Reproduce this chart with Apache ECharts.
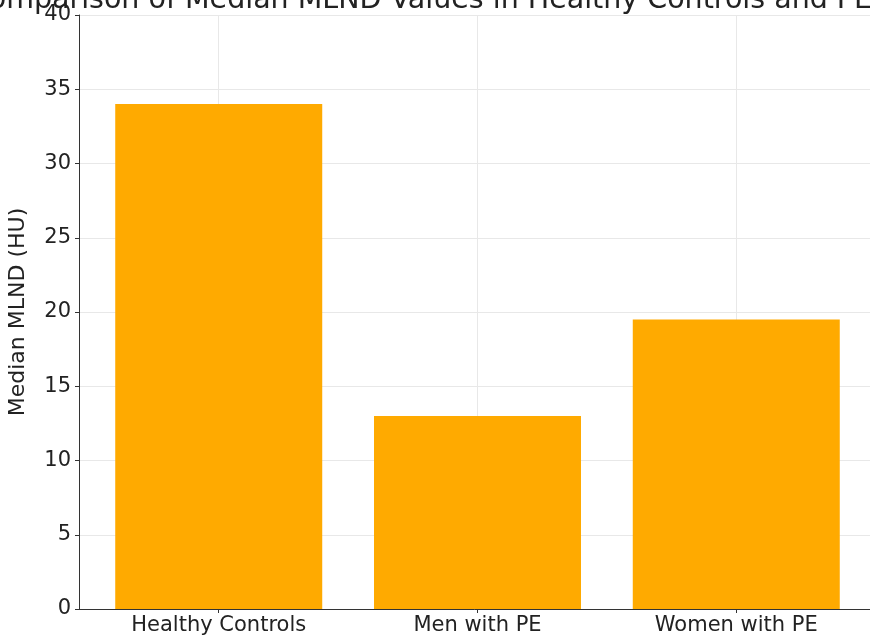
<!DOCTYPE html>
<html>
<head>
<meta charset="utf-8">
<script src="https://cdn.jsdelivr.net/npm/echarts@6/dist/echarts.min.js"></script>
<style>
html,body{margin:0;padding:0;background:#fff;}
#chart{width:870px;height:642px;}
</style>
</head>
<body>
<div id="chart"></div>
<script>
const titleText = "Comparison of Median MLND Values in Healthy Controls and PE Patients";
const categories = ["Healthy Controls", "Men with PE", "Women with PE"];
const medianMLND = [34, 13, 19.5];
const yTicks = [0, 5, 10, 15, 20, 25, 30, 35, 40];
const yAxisName = "Median MLND (HU)";

const catPositions = categories.map((c, i) => i);
const barData = medianMLND.map((v, i) => [i, v]);

const FONT = "DejaVu Sans";
const chart = echarts.init(document.getElementById('chart'), null, {renderer: 'canvas'});
chart.setOption({
  animation: false,
  backgroundColor: '#ffffff',
  title: {
    text: titleText,
    left: 477,
    textAlign: 'center',
    top: -19,
    textStyle: {fontFamily: FONT, fontSize: 28.5, fontWeight: 'normal', color: '#222'}
  },
  grid: {left: 79, right: -6, top: 15, bottom: 33, containLabel: false, outerBoundsMode: 'none'},
  xAxis: {
    type: 'value',
    min: -0.54,
    max: 2.54,
    axisLine: {show: true, onZero: false, lineStyle: {color: '#333', width: 1}},
    axisTick: {show: true, inside: false, length: 4, customValues: catPositions, lineStyle: {color: '#333'}},
    axisLabel: {
      customValues: catPositions,
      formatter: v => categories[Math.round(v)] || '',
      fontFamily: FONT, fontSize: 21, color: '#222', margin: 6
    },
    splitLine: {show: true, lineStyle: {color: '#e8e8e8', width: 1}}
  },
  yAxis: {
    type: 'value',
    min: yTicks[0],
    max: yTicks[yTicks.length - 1],
    interval: 5,
    name: yAxisName,
    nameLocation: 'middle',
    nameGap: 50,
    nameTextStyle: {fontFamily: FONT, fontSize: 22, color: '#222'},
    axisLine: {show: true, onZero: false, lineStyle: {color: '#333', width: 1}},
    axisTick: {show: true, inside: false, length: 4, lineStyle: {color: '#333'}},
    axisLabel: {fontFamily: FONT, fontSize: 21, color: '#222', margin: 8},
    splitLine: {show: true, lineStyle: {color: '#e8e8e8', width: 1}}
  },
  series: [{
    type: 'bar',
    data: barData,
    barWidth: 207,
    itemStyle: {color: '#FFAA00'},
    z: 2
  }]
});
</script>
</body>
</html>
